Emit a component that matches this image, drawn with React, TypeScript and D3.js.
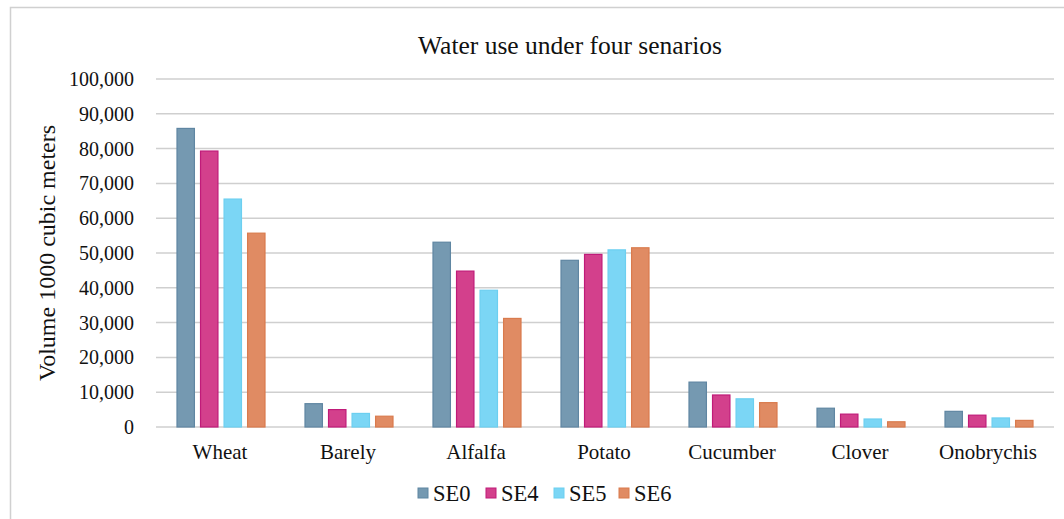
import { useMemo } from "react";
import * as d3 from "d3";

const WIDTH = 1064;
const HEIGHT = 519;
const MARGIN = { top: 79, right: 10, bottom: 92, left: 156 };

const categories = ["Wheat", "Barely", "Alfalfa", "Potato", "Cucumber", "Clover", "Onobrychis"];
const seriesNames = ["SE0", "SE4", "SE5", "SE6"];
const SE0 = [85800, 6700, 53100, 47900, 12900, 5400, 4500];
const SE4 = [79300, 5000, 44800, 49600, 9200, 3700, 3400];
const SE5 = [65500, 3900, 39300, 50900, 8100, 2300, 2600];
const SE6 = [55700, 3100, 31200, 51500, 7000, 1500, 1900];
const yTicks = [0, 10000, 20000, 30000, 40000, 50000, 60000, 70000, 80000, 90000, 100000];

const fills = ["#7599b1", "#d3408c", "#7bd6f5", "#e08b63"];
const strokes = ["#5f86a2", "#c01b79", "#6ccff0", "#d97b4d"];

const FONT = "'Liberation Serif', 'Times New Roman', serif";

export default function App() {
  const values = [SE0, SE4, SE5, SE6];
  const boundsHeight = HEIGHT - MARGIN.top - MARGIN.bottom;

  const xScale = useMemo(
    () => d3.scaleBand().domain(categories).range([0, 7 * 128]).paddingInner(0).paddingOuter(0),
    []
  );
  const innerScale = useMemo(
    () => d3.scaleBand().domain(seriesNames).range([21, 128 - 19]).paddingInner(0.26),
    []
  );
  const yScale = useMemo(
    () => d3.scaleLinear().domain([0, 100000]).range([boundsHeight, 0]),
    [boundsHeight]
  );
  const fmt = d3.format(",");

  return (
    <svg width={WIDTH} height={HEIGHT} style={{ position: "absolute", left: 0, top: 0, background: "#fff" }}>
      <rect x={10.5} y={7.5} width={WIDTH} height={HEIGHT} fill="#fff" stroke="#d0d0d0" strokeWidth={1.5} />
      <text x={570} y={54} textAnchor="middle" fontFamily={FONT} fontSize={25.5} fill="#111">
        Water use under four senarios
      </text>
      <text
        transform={`translate(55, 253) rotate(-90)`}
        textAnchor="middle"
        fontFamily={FONT}
        fontSize={24}
        fill="#111"
      >
        Volume 1000 cubic meters
      </text>
      <g transform={`translate(${MARGIN.left},${MARGIN.top})`}>
        {yTicks.map((t) => (
          <g key={t}>
            <line x1={0} x2={898} y1={yScale(t)} y2={yScale(t)} stroke="#cfcfcf" strokeWidth={1.5} />
            <text
              x={-22}
              y={yScale(t)}
              dy="0.35em"
              textAnchor="end"
              fontFamily={FONT}
              fontSize={20}
              fill="#111"
            >
              {fmt(t)}
            </text>
          </g>
        ))}
        {categories.map((c, i) => (
          <g key={c} transform={`translate(${xScale(c)},0)`}>
            {seriesNames.map((s, j) => {
              const v = values[j][i];
              return (
                <rect
                  key={s}
                  x={innerScale(s)}
                  y={yScale(v)}
                  width={innerScale.bandwidth()}
                  height={boundsHeight - yScale(v)}
                  fill={fills[j]}
                  stroke={strokes[j]}
                  strokeWidth={1.2}
                />
              );
            })}
            <text
              x={xScale.bandwidth() / 2}
              y={boundsHeight + 32}
              textAnchor="middle"
              fontFamily={FONT}
              fontSize={21}
              fill="#111"
            >
              {c}
            </text>
          </g>
        ))}
      </g>
      <g transform="translate(418,493)">
        {seriesNames.map((s, j) => {
          const offsets = [0, 68, 136, 201];
          return (
            <g key={s} transform={`translate(${offsets[j]},0)`}>
              <rect x={0} y={-5} width={10} height={10} fill={fills[j]} stroke={strokes[j]} />
              <text x={15} y={0} dy="0.35em" fontFamily={FONT} fontSize={22.5} fill="#111">
                {s}
              </text>
            </g>
          );
        })}
      </g>
    </svg>
  );
}
